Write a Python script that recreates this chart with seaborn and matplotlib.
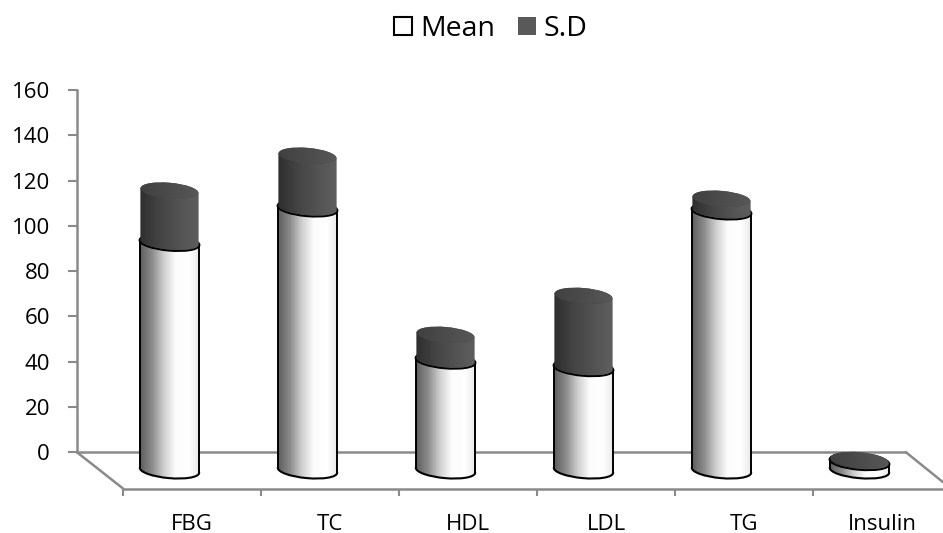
import numpy as np
import matplotlib
matplotlib.use("Agg")
import matplotlib.pyplot as plt
import matplotlib.transforms as mtrans
from matplotlib.colors import LinearSegmentedColormap
from matplotlib.patches import Ellipse, Patch, Polygon
import seaborn as sns

categories = ["FBG", "TC", "HDL", "LDL", "TG", "Insulin"]
mean_values = [100.6, 115.8, 48.6, 45.3, 114.5, 3.8]
sd_values = [23.0, 23.2, 11.3, 31.8, 5.5, 0.8]
y_ticks = [0, 20, 40, 60, 80, 100, 120, 140, 160]

sns.set_style("white")
plt.rcParams["font.family"] = ["Open Sans", "DejaVu Sans"]

W, H = 943, 533
fig = plt.figure(figsize=(W / 100, H / 100), dpi=100)
ax = fig.add_axes([77 / W, (H - 488.5) / H, 866 / W, 398.5 / H])

FLOOR = -8.0
BAR_W = 0.43
GRAY = "#8a8a8a"
TILT = 2.6 / 2.264  # half the rise of a tilted disc, in value units

mean_cmap = LinearSegmentedColormap.from_list(
    "mean", [(0, "#5e5e5e"), (0.2, "#8c8c8c"), (0.4, "#d0d0d0"), (0.6, "#fcfcfc"), (0.82, "#ffffff"), (1, "#e8e8e8")])
sd_cmap = LinearSegmentedColormap.from_list(
    "sd", [(0, "#2e2e2e"), (0.35, "#454545"), (0.75, "#565656"), (1, "#5e5e5e")])
top_cmap = LinearSegmentedColormap.from_list("top", ["#404040", "#4c4c4c", "#585858"])
grad = np.linspace(0, 1, 128).reshape(1, -1)

sns.barplot(x=categories, y=mean_values, bottom=FLOOR, width=BAR_W, color="white",
            saturation=1, linewidth=0, ax=ax)
sns.barplot(x=categories, y=sd_values, bottom=np.array(mean_values) + FLOOR, width=BAR_W,
            color="#595959", saturation=1, linewidth=0, ax=ax)


def disc(x, y, w_px, h_px=15.5, **kw):
    tr = fig.dpi_scale_trans + mtrans.ScaledTranslation(x, y, ax.transData)
    e = Ellipse((0, 0), w_px / 100, h_px / 100, angle=-5, transform=tr, **kw)
    ax.add_patch(e)
    return e


def shade(x0, x1, y0, y1, cmap, z, clip=None):
    im = ax.imshow(grad, extent=(x0, x1, y0, y1), cmap=cmap, aspect="auto", zorder=z,
                   interpolation="bilinear", vmin=0, vmax=1)
    if clip is not None:
        im.set_clip_path(clip)
    return im


def body(x0, x1, y0, y1, cmap, z):
    # the side of the cylinder follows the tilt of its discs
    poly = Polygon([(x0, y0 + TILT), (x1, y0 - TILT), (x1, y1 - TILT), (x0, y1 + TILT)],
                   closed=True, fc="none", ec="none", zorder=z)
    ax.add_patch(poly)
    shade(x0, x1, y0 - TILT, y1 + TILT, cmap, z, clip=poly)


pad = 6
for bar in ax.containers[0]:
    x0, x1 = bar.get_x(), bar.get_x() + bar.get_width()
    y0, y1 = bar.get_y(), bar.get_y() + bar.get_height()
    xc = (x0 + x1) / 2
    bar.set_zorder(1.5)
    bar.set_facecolor("none")
    base = disc(xc, y0, 59.5, fc="white", ec="none", zorder=2)
    shade(x0, x1, y0 - pad, y0 + pad, mean_cmap, 2.2, clip=base)
    disc(xc, y0, 59.5, fc="none", ec="black", lw=1.5, zorder=2.3)
    body(x0, x1, y0, y1, mean_cmap, 3)
    ax.plot([x0, x0], [y0 + TILT, y1 + TILT], color="black", lw=1.4, zorder=3.2, solid_capstyle="butt")
    ax.plot([x1, x1], [y0 - TILT, y1 - TILT], color="black", lw=1.4, zorder=3.2, solid_capstyle="butt")
    disc(xc, y1, 59.5, fc="white", ec="black", lw=1.8, zorder=3.5)

for bar in ax.containers[1]:
    x0, x1 = bar.get_x(), bar.get_x() + bar.get_width()
    y0, y1 = bar.get_y(), bar.get_y() + bar.get_height()
    xc = (x0 + x1) / 2
    bar.set_zorder(1.5)
    bar.set_facecolor("none")
    low = disc(xc, y0, 58, h_px=14, fc="#444444", ec="none", zorder=4)
    shade(x0, x1, y0 - pad, y0 + pad, sd_cmap, 4.1, clip=low)
    body(x0 + 0.004, x1 - 0.004, y0, y1, sd_cmap, 5)
    cap = disc(xc, y1, 58, fc="#484848", ec="none", zorder=6)
    shade(x0, x1, y1 - pad, y1 + pad, top_cmap, 6.1, clip=cap)

# axes, wall and floor
STEP = 138
ax.set_xlim((77 - 169.5) / STEP, (943 - 169.5) / STEP)
ax.set_ylim(-16, 160)
xl = ax.get_xlim()
left_front = (123 - 169.5) / STEP
right_back = (906 - 169.5) / STEP
for sp in ("top", "right"):
    ax.spines[sp].set_visible(False)
ax.spines["left"].set(color=GRAY, linewidth=1.8)
ax.spines["left"].set_bounds(0, 160)
ax.spines["bottom"].set(color=GRAY, linewidth=1.8)
ax.spines["bottom"].set_bounds(left_front, xl[1])
ax.plot([xl[0], right_back], [0, 0], color=GRAY, lw=1.8, zorder=1, clip_on=False)
ax.plot([xl[0], left_front], [0, -16], color=GRAY, lw=1.8, zorder=1, clip_on=False)
ax.plot([right_back, xl[1]], [0, -13.2], color=GRAY, lw=1.8, zorder=1, clip_on=False)

ax.set_yticks(y_ticks)
ax.tick_params(axis="y", left=True, length=6.5, width=1.5, color=GRAY, labelsize=16,
               pad=13, labelcolor="black")
ax.set_xticks(np.arange(len(categories)) + (192 - 169.5) / STEP, labels=categories)
ax.set_xticks(np.arange(len(categories)) + left_front, minor=True)
ax.tick_params(axis="x", which="major", bottom=False, length=0, labelsize=16, pad=18,
               labelcolor="black")
ax.tick_params(axis="x", which="minor", bottom=True, length=5, width=1.5, color=GRAY)
ax.set_xlabel("")
ax.set_ylabel("")
ax.patch.set_alpha(0)

handles = [Patch(fc="white", ec="black", lw=1.5, label="Mean"),
           Patch(fc="#595959", ec="none", label="S.D")]
fig.legend(handles=handles, loc="center", bbox_to_anchor=(491 / W, 1 - 29 / H), ncol=2, frameon=False,
           fontsize=20.5, handlelength=0.63, handleheight=0.63, handletextpad=0.28, columnspacing=0.8,
           labelcolor="black")

fig.savefig("out.png", dpi=100)
